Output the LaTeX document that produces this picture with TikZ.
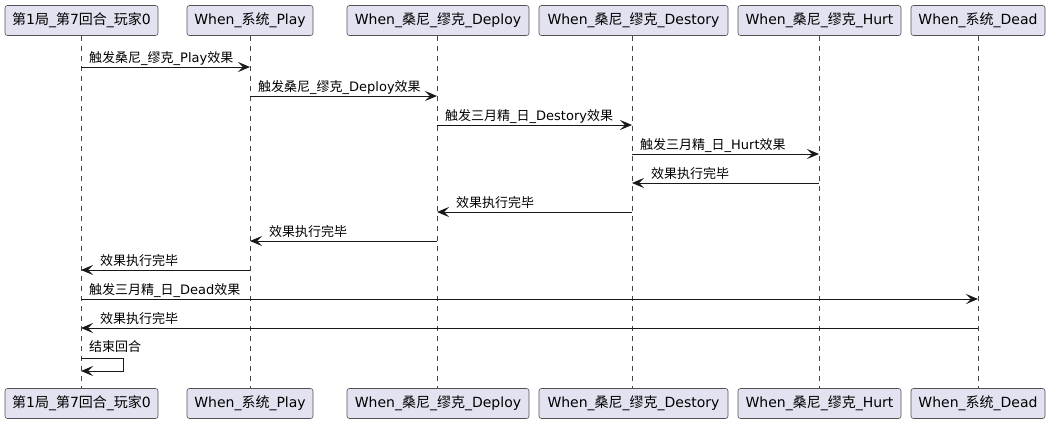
\documentclass[tikz,border=0pt]{standalone}
\usepackage{fontspec}
\setmainfont{DejaVu Sans}
\newfontfamily\cjk{Noto Sans CJK SC}
\newcommand{\C}[1]{{\cjk #1}}
\usetikzlibrary{arrows.meta}
\definecolor{partfill}{HTML}{E2E2F0}
\definecolor{ink}{HTML}{181818}
\tikzset{
  x=1pt, y=-1pt,
  part/.style={draw=ink!75, line width=0.6pt, fill=partfill, rounded corners=2.5pt,
    minimum height=30pt, inner sep=0pt, font=\fontsize{14}{16}\selectfont, text=black},
  life/.style={draw=ink!80, line width=0.5pt, dash pattern=on 5pt off 5pt},
  msg/.style={draw=ink, line width=1pt, -{Stealth[length=12pt,width=10pt,inset=5pt]}},
  lbl/.style={font=\fontsize{13}{15}\selectfont, inner sep=0pt, text=black},
}
\begin{document}
\begin{tikzpicture}
\useasboundingbox (0,0) rectangle (1050,424);
% participant boxes, top and bottom
\foreach \n/\cx/\w/\t in {
  a/81.5/153/{\C{第}1\C{局}\_\C{第}7\C{回合}\_\C{玩家}0},
  b/250/126/{When\_\C{系统}\_Play},
  c/438/182/{When\_\C{桑尼}\_\C{缪克}\_Deploy},
  d/633.5/189/{When\_\C{桑尼}\_\C{缪克}\_Destory},
  e/819.5/163/{When\_\C{桑尼}\_\C{缪克}\_Hurt},
  f/978/134/{When\_\C{系统}\_Dead}} {
  \node[part, minimum width=\w pt] (\n top) at (\cx,20.5) {\t};
  \node[part, minimum width=\w pt] (\n bot) at (\cx,403.5) {\t};
}
% lifelines
\foreach \n/\lx in {a/81,b/250,c/437,d/632,e/819,f/978} {
  \coordinate (\n0) at (\lx,36);
  \coordinate (\n1) at (\lx,388);
  \draw[life] (\n0) -- (\n1);
}
% message rows on the lifelines
\foreach \n/\lx in {a/81,b/250,c/437,d/632,e/819,f/978} {
  \foreach \k/\yy in {1/67,2/96,3/125,4/154,5/183,6/212,7/241,8/270,9/299,10/328,11/358.5,12/371} {
    \coordinate (\n m\k) at (\lx,\yy);
  }
}
% calls to the right
\draw[msg] (am1) -- (bm1);
\node[lbl, anchor=base west] at ([shift={(8,-5)}]am1) {\C{触发桑尼}\_\C{缪克}\_Play\C{效果}};
\draw[msg] (bm2) -- (cm2);
\node[lbl, anchor=base west] at ([shift={(8,-5)}]bm2) {\C{触发桑尼}\_\C{缪克}\_Deploy\C{效果}};
\draw[msg] (cm3) -- (dm3);
\node[lbl, anchor=base west] at ([shift={(8,-5)}]cm3) {\C{触发三月精}\_\C{日}\_Destory\C{效果}};
\draw[msg] (dm4) -- (em4);
\node[lbl, anchor=base west] at ([shift={(8,-5)}]dm4) {\C{触发三月精}\_\C{日}\_Hurt\C{效果}};
% returns to the left
\draw[msg] (em5) -- (dm5);
\node[lbl, anchor=base west] at ([shift={(19,-5)}]dm5) {\C{效果执行完毕}};
\draw[msg] (dm6) -- (cm6);
\node[lbl, anchor=base west] at ([shift={(19,-5)}]cm6) {\C{效果执行完毕}};
\draw[msg] (cm7) -- (bm7);
\node[lbl, anchor=base west] at ([shift={(19,-5)}]bm7) {\C{效果执行完毕}};
\draw[msg] (bm8) -- (am8);
\node[lbl, anchor=base west] at ([shift={(19,-5)}]am8) {\C{效果执行完毕}};
% dead trigger and its return
\draw[msg] (am9) -- (fm9);
\node[lbl, anchor=base west] at ([shift={(8,-5)}]am9) {\C{触发三月精}\_\C{日}\_Dead\C{效果}};
\draw[msg] (fm10) -- (am10);
\node[lbl, anchor=base west] at ([shift={(19,-5)}]am10) {\C{效果执行完毕}};
% self message
\coordinate (s1) at (123,358.5);
\coordinate (s2) at (123,371);
\draw[msg] (am11) -- (s1) -- (s2) -- (am12);
\node[lbl, anchor=base west] at ([shift={(8,-7)}]am11) {\C{结束回合}};
\end{tikzpicture}
\end{document}
